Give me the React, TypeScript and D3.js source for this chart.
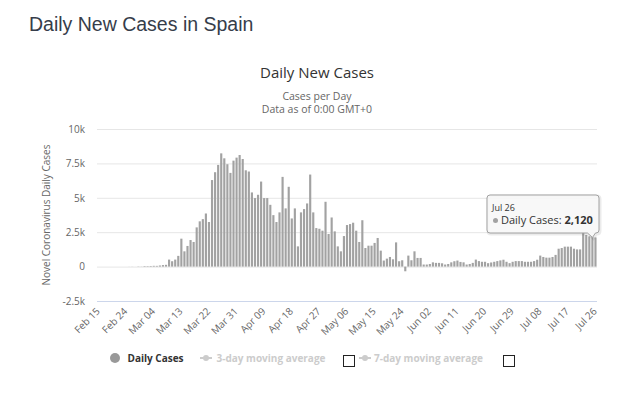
import React, { useEffect, useRef } from 'react';
import * as d3 from 'd3';

// one category per day, Feb 15 .. Jul 26 2020
const firstDay = new Date(2020, 1, 15);
const lastDay = new Date(2020, 6, 26);
const fmtDay = d3.timeFormat('%b %d');
const categories = d3.timeDay.range(firstDay, d3.timeDay.offset(lastDay, 1)).map(d => fmtDay(d));

// daily new cases
const dailyCases = [
  0, 0, 0, 0, 0, 0, 0, 0, 0, 0,
  4, 7, 2, 17, 13, 39, 36, 45, 57, 54,
  80, 110, 130, 510, 390, 510, 780, 2030, 1110, 1500,
  1930, 1790, 2850, 3290, 3450, 3860, 3240, 6290, 6860, 7390,
  8230, 7870, 7440, 6810, 7700, 7920, 8110, 7820, 7000, 6910,
  5390, 4980, 5220, 6180, 4980, 4980, 4490, 3740, 3240, 3940,
  6520, 4230, 5800, 3500, 4230, 1470, 3940, 4180, 4590, 6690,
  3940, 2800, 2750, 2610, 4710, 2370, 3570, 2560, 1470, 1110,
  2220, 3020, 3090, 3190, 2610, 1790, 3370, 1350, 1520, 1520,
  1720, 2080, 1160, 440, 580, 700, 530, 1760, 390, 460,
  -340, 800, 460, 1110, 630, 630, 150, 150, 190, 310,
  270, 270, 240, 150, 190, 310, 390, 440, 340, 310,
  150, 190, 270, 510, 400, 350, 350, 250, 300, 350,
  400, 450, 500, 350, 250, 350, 400, 400, 400, 350,
  350, 350, 400, 500, 800, 700, 650, 650, 700, 850,
  1300, 1350, 1450, 1450, 1450, 1300, 1250, 1250, 2500, 2300,
  2200, 2150, 2120
];

const tickLabels = ['Feb 15', 'Feb 24', 'Mar 04', 'Mar 13', 'Mar 22', 'Mar 31', 'Apr 09', 'Apr 18', 'Apr 27',
  'May 06', 'May 15', 'May 24', 'Jun 02', 'Jun 11', 'Jun 20', 'Jun 29', 'Jul 08', 'Jul 17', 'Jul 26'];
const yTicks = [-2500, 0, 2500, 5000, 7500, 10000];
const yTickLabels = ['-2.5k', '0', '2.5k', '5k', '7.5k', '10k'];

const legendItems = ['Daily Cases', '3-day moving average', '7-day moving average'];
const tooltipDay = 'Jul 26';

const FONT = '"Open Sans", sans-serif';

export default function App() {
  const ref = useRef<SVGSVGElement>(null);

  useEffect(() => {
    const W = 618, H = 395;
    const margin = { top: 129, right: 21, bottom: 94, left: 97 };
    const w = W - margin.left - margin.right;
    const h = H - margin.top - margin.bottom;

    const svg = d3.select(ref.current);
    svg.selectAll('*').remove();

    svg.append('rect').attr('width', W).attr('height', H).attr('fill', '#fff');

    // page heading
    svg.append('text').attr('x', 29).attr('y', 31)
      .style('font', '19.5px "Liberation Sans", Arial, sans-serif').attr('fill', '#363d4a')
      .text('Daily New Cases in Spain');

    // chart title + subtitle
    svg.append('text').attr('x', 317).attr('y', 78).attr('text-anchor', 'middle')
      .style('font', `15px ${FONT}`).attr('fill', '#333').text('Daily New Cases');
    svg.append('text').attr('x', 317).attr('y', 100).attr('text-anchor', 'middle')
      .style('font', `10.5px ${FONT}`).attr('fill', '#666').text('Cases per Day');
    svg.append('text').attr('x', 317).attr('y', 113).attr('text-anchor', 'middle')
      .style('font', `10.5px ${FONT}`).attr('fill', '#666').text('Data as of 0:00 GMT+0');

    const g = svg.append('g').attr('transform', `translate(${margin.left},${margin.top})`);

    const x = d3.scaleBand().domain(categories).range([0, w]).paddingInner(0.3).paddingOuter(0.15);
    const y = d3.scaleLinear().domain([-2500, 10000]).range([h, 0]);

    const yAxis = g.append('g')
      .call(d3.axisLeft(y).tickValues(yTicks).tickSize(-w).tickPadding(12)
        .tickFormat((d, i) => yTickLabels[i]));
    yAxis.select('.domain').remove();
    yAxis.selectAll('line').attr('stroke', (d: any) => d === -2500 ? '#ccd6eb' : '#e6e6e6');
    yAxis.selectAll('text').attr('fill', '#666').style('font', `10px ${FONT}`);

    const xAxis = g.append('g').attr('transform', `translate(0,${h})`)
      .call(d3.axisBottom(x).tickValues(tickLabels).tickSize(0));
    xAxis.select('.domain').remove();
    xAxis.selectAll('text')
      .attr('x', 0).attr('y', 0).attr('dy', 0)
      .attr('text-anchor', 'end')
      .attr('transform', 'translate(2,11) rotate(-45)')
      .attr('fill', '#666').style('font', `10px ${FONT}`);

    // axis title
    svg.append('text').attr('text-anchor', 'middle')
      .attr('transform', `translate(50,${margin.top + h / 2}) rotate(-90)`)
      .style('font', `10px ${FONT}`).attr('fill', '#666')
      .text('Novel Coronavirus Daily Cases');

    g.selectAll('.bar').data(dailyCases).join('rect').attr('class', 'bar')
      .attr('x', (d, i) => x(categories[i]))
      .attr('y', d => y(Math.max(0, d)))
      .attr('width', x.bandwidth())
      .attr('height', d => Math.abs(y(d) - y(0)))
      .attr('fill', '#a2a2a2');

    // legend
    const lg = svg.append('g').style('font', `bold 10px ${FONT}`);
    lg.append('circle').attr('cx', 115).attr('cy', 358).attr('r', 5).attr('fill', '#999');
    lg.append('text').attr('x', 127.5).attr('y', 361.5).attr('fill', '#333').text(legendItems[0]);

    [[200, 216.5, 343.5], [359, 374, 503.5]].forEach(([sx, tx, bx], k) => {
      lg.append('line').attr('x1', sx).attr('x2', sx + 12).attr('y1', 358).attr('y2', 358)
        .attr('stroke', '#ccc').attr('stroke-width', 2);
      lg.append('circle').attr('cx', sx + 6).attr('cy', 358).attr('r', 3).attr('fill', '#ccc');
      lg.append('text').attr('x', tx).attr('y', 361.5).attr('fill', '#ccc').text(legendItems[k + 1]);
      lg.append('rect').attr('x', bx).attr('y', 355.5).attr('width', 11).attr('height', 11)
        .attr('fill', '#fff').attr('stroke', '#222').attr('stroke-width', 1);
    });

    // tooltip on the last day
    const li = categories.indexOf(tooltipDay);
    const px = margin.left + x(categories[li]) + x.bandwidth() / 2;
    const py = margin.top + y(dailyCases[li]);
    const bx0 = 487, bx1 = 599, by0 = 195, by1 = 233;
    const tip = svg.append('g');
    const callout = `M${bx0 + 3},${by0} H${bx1 - 3} Q${bx1},${by0} ${bx1},${by0 + 3} V${by1 - 3} Q${bx1},${by1} ${bx1 - 3},${by1}
      H${px} L${px - 3},${py} L${px - 8},${by1} H${bx0 + 3} Q${bx0},${by1} ${bx0},${by1 - 3} V${by0 + 3} Q${bx0},${by0} ${bx0 + 3},${by0} Z`;
    tip.append('path').attr('d', callout).attr('transform', 'translate(1,1)')
      .attr('fill', 'none').attr('stroke', '#000').attr('stroke-opacity', 0.08).attr('stroke-width', 3);
    tip.append('path').attr('d', callout)
      .attr('fill', 'rgba(247,247,247,0.9)').attr('stroke', '#a2a2a2').attr('stroke-width', 1);
    tip.append('text').attr('x', 492).attr('y', 211).attr('fill', '#333')
      .style('font', `9px ${FONT}`).text(tooltipDay);
    tip.append('circle').attr('cx', 495.5).attr('cy', 220.5).attr('r', 2.5).attr('fill', '#a2a2a2');
    const t = tip.append('text').attr('x', 501).attr('y', 224).attr('fill', '#333').style('font', `11px ${FONT}`);
    t.append('tspan').text('Daily Cases: ');
    t.append('tspan').attr('font-weight', 'bold').text(d3.format(',')(dailyCases[li]));
  }, []);

  return <svg ref={ref} width={618} height={395} style={{ position: 'absolute', left: 0, top: 0 }} />;
}
